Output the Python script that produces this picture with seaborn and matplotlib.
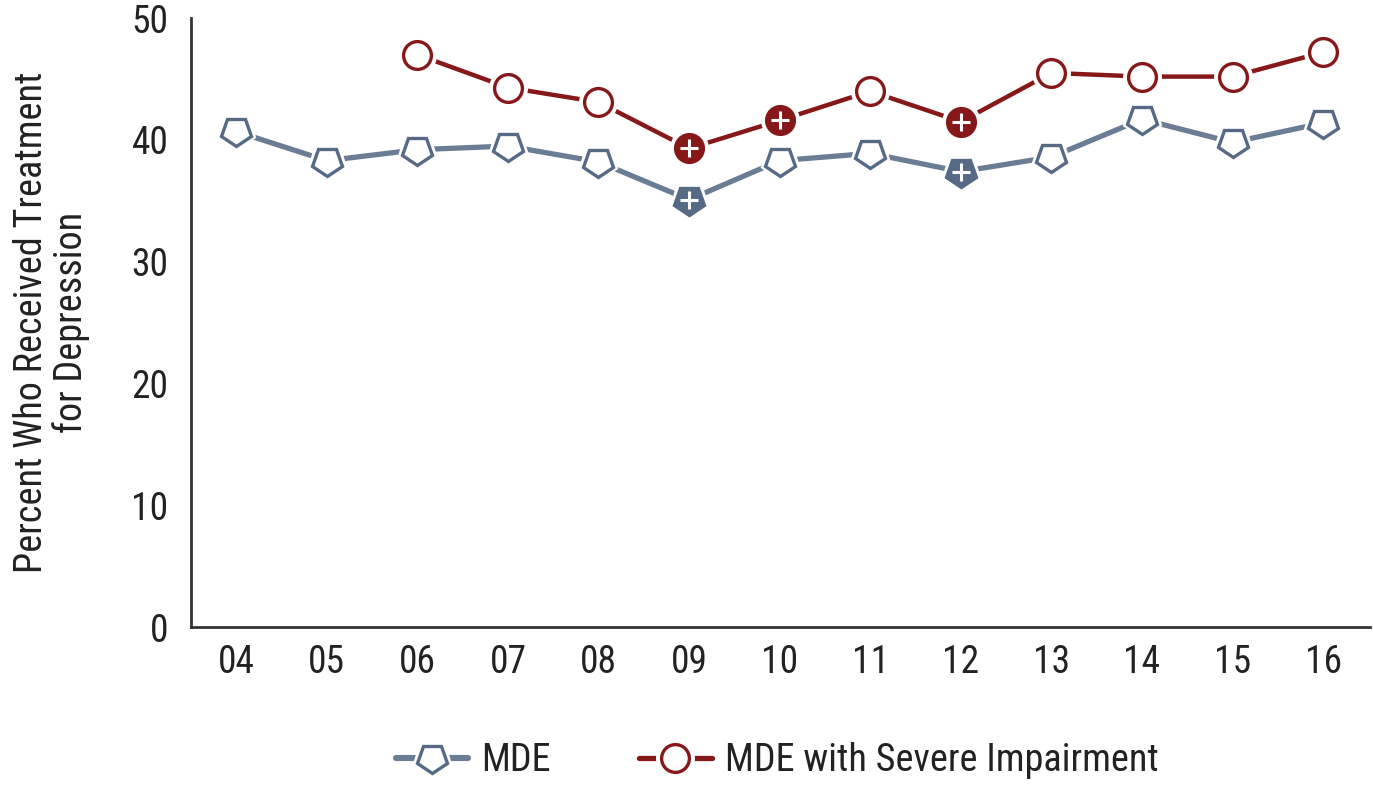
import numpy as np
import pandas as pd
import matplotlib
matplotlib.use("Agg")
import matplotlib.pyplot as plt
import seaborn as sns
from matplotlib.markers import MarkerStyle
from matplotlib.transforms import Affine2D
from matplotlib.lines import Line2D
from matplotlib.legend_handler import HandlerTuple

# --- Data ---
years = ["04", "05", "06", "07", "08", "09", "10", "11", "12", "13", "14", "15", "16"]
mde = [40.7, 38.3, 39.2, 39.5, 38.2, 35.1, 38.3, 38.9, 37.4, 38.6, 41.7, 39.8, 41.4]
severe = [np.nan, np.nan, 47.0, 44.3, 43.1, 39.3, 41.6, 44.0, 41.5, 45.5, 45.2, 45.2, 47.2]
# years flagged as significantly different (filled marker with "+")
mde_sig = ["09", "12"]
severe_sig = ["09", "10", "12"]

MDE_LINE = "#6b7d95"
MDE_MARK = "#566a86"
SEV = "#86181a"
TXT = "#222222"

df = pd.DataFrame({"year": years, "MDE": mde, "MDE with Severe Impairment": severe})
df["x"] = np.arange(len(years))
long_df = df.melt(id_vars=["year", "x"], var_name="series", value_name="pct")

sns.set_style("white")
plt.rcParams["font.family"] = ["Roboto Condensed", "DejaVu Sans"]

fig = plt.figure(figsize=(13.73, 7.88), dpi=100)
ax = fig.add_axes([0.139, 0.204, 0.859, 0.773])

pent = MarkerStyle("p", transform=Affine2D().rotate_deg(180))

specs = {
    "MDE": dict(color=MDE_LINE, mcol=MDE_MARK, marker=pent, ms=22, lw=3.8, sig=mde_sig),
    "MDE with Severe Impairment": dict(color=SEV, mcol=SEV, marker="o", ms=20, lw=3.2, sig=severe_sig),
}

legend_handles = []
for name, s in specs.items():
    sub = long_df[long_df["series"] == name].dropna()
    sns.lineplot(data=sub, x="x", y="pct", ax=ax, color=s["color"], lw=s["lw"],
                 legend=False, zorder=2)
    # white halo to create the gap between line and marker
    ax.plot(sub["x"], sub["pct"], ls="none", marker=s["marker"], ms=s["ms"] + 7,
            mfc="white", mec="white", zorder=3)
    open_pts = sub[~sub["year"].isin(s["sig"])]
    sig_pts = sub[sub["year"].isin(s["sig"])]
    ax.plot(open_pts["x"], open_pts["pct"], ls="none", marker=s["marker"], ms=s["ms"],
            mfc="white", mec=s["mcol"], mew=2.4, zorder=4)
    ax.plot(sig_pts["x"], sig_pts["pct"], ls="none", marker=s["marker"], ms=s["ms"],
            mfc=s["mcol"], mec=s["mcol"], mew=2.4, zorder=4)
    ax.plot(sig_pts["x"], sig_pts["pct"], ls="none", marker="+", ms=13,
            mec="white", mew=2.2, zorder=5)
    legend_handles.append((
        Line2D([], [], color=s["color"], lw=s["lw"] + 0.6),
        Line2D([], [], ls="none", marker=s["marker"], ms=s["ms"] + 7, mfc="white", mec="white"),
        Line2D([], [], ls="none", marker=s["marker"], ms=s["ms"], mfc="white",
               mec=s["mcol"], mew=2.4),
    ))

ax.set_xlim(-0.5, 12.52)
ax.set_ylim(0, 50)
ax.set_xticks(df["x"])
ax.set_xticklabels(years)
ax.set_yticks([0, 10, 20, 30, 40, 50])
ax.tick_params(axis="both", length=0, labelsize=27, colors=TXT)
ax.tick_params(axis="x", pad=12)
ax.tick_params(axis="y", pad=16)
ax.set_xlabel("")
ax.set_ylabel("Percent Who Received Treatment\nfor Depression", fontsize=27.5,
              color=TXT, labelpad=30, linespacing=1.05)

sns.despine(ax=ax)
for side in ["left", "bottom"]:
    ax.spines[side].set_color("#333333")
    ax.spines[side].set_linewidth(2)

fig.legend(legend_handles, list(specs.keys()), loc="center", bbox_to_anchor=(0.566, 0.035),
           ncol=2, frameon=False, fontsize=27.5, handlelength=1.9, columnspacing=2.3,
           handletextpad=0.35, labelcolor=TXT,
           handler_map={tuple: HandlerTuple(ndivide=1)})

fig.savefig("out.png", dpi=100)
